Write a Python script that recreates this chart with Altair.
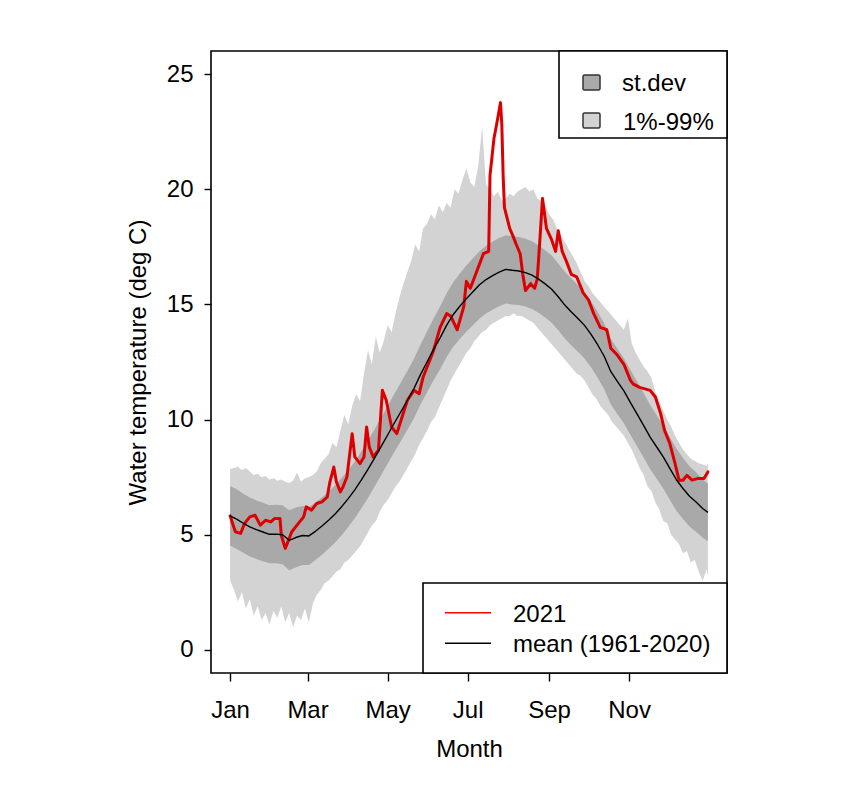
import altair as alt
import pandas as pd

# ---------------- data ----------------
# 2021 daily water temperature (day of year, deg C)
r_days = [1, 5, 9, 12, 16, 20, 24, 28, 32, 35, 39, 40, 43, 45, 48, 52, 57, 59, 63, 67,
          71, 75, 77, 80, 82, 85, 87, 90, 94, 96, 100, 103, 105, 107, 110, 114, 117, 120, 124, 128,
          132, 136, 141, 145, 148, 153, 156, 161, 166, 169, 174, 179, 181, 184, 188, 194, 198, 199, 202, 204,
          207, 208, 209, 210, 214, 217, 219, 222, 224, 226, 230, 233, 235, 237, 239, 242, 246, 249, 251, 254,
          257, 261, 265, 270, 274, 278, 283, 288, 291, 296, 301, 306, 308, 313, 321, 325, 329, 332, 336, 340,
          343, 346, 349, 353, 357, 362, 365]
r_vals = [5.82, 5.13, 5.06, 5.49, 5.78, 5.85, 5.42, 5.63, 5.56, 5.71, 5.71, 4.98, 4.41, 4.69, 5.13, 5.42, 5.78, 6.21, 6.07, 6.36,
          6.43, 6.64, 7.29, 7.94, 7.29, 6.86, 7.08, 7.51, 9.39, 8.38, 8.09, 8.38, 9.68, 8.81, 8.38, 8.67, 11.27, 10.83, 9.68, 9.39,
          10.11, 10.83, 11.27, 11.12, 11.84, 12.56, 13.0, 14.0, 14.6, 14.5, 13.9, 14.9, 16.0, 15.7, 16.3, 17.2, 17.3, 20.6, 22.2, 22.8,
          23.76, 22.8, 20.6, 19.2, 18.3, 17.9, 17.6, 17.2, 16.3, 15.6, 15.9, 15.7, 16.1, 17.8, 19.6, 18.3, 17.8, 17.3, 18.2, 17.3,
          16.9, 16.3, 16.2, 15.5, 15.2, 14.6, 14.0, 13.9, 13.1, 12.8, 12.4, 11.7, 11.55, 11.4, 11.27, 10.98, 10.26, 9.53, 8.96, 8.09,
          7.37, 7.37, 7.58, 7.37, 7.44, 7.44, 7.73]

# mean (1961-2020) and st.dev, every 5 days
m_days = [1, 6, 11, 16, 21, 26, 31, 36, 41, 46, 51, 56, 61, 66, 71, 76, 81, 86, 91, 96,
          101, 106, 111, 116, 121, 126, 131, 136, 141, 146, 151, 156, 161, 166, 171, 176, 181, 186, 191, 196,
          201, 206, 211, 216, 221, 226, 231, 236, 241, 246, 251, 256, 261, 266, 271, 276, 281, 286, 291, 296,
          301, 306, 311, 316, 321, 326, 331, 336, 341, 346, 351, 356, 361, 365]
m_vals = [5.82, 5.68, 5.50, 5.34, 5.22, 5.12, 5.02, 5.03, 5.00, 4.76, 4.88, 4.97, 4.95, 5.15, 5.38, 5.63, 5.90, 6.22, 6.57, 6.95,
          7.38, 7.84, 8.33, 8.83, 9.33, 9.84, 10.33, 10.83, 11.34, 11.95, 12.50, 13.05, 13.55, 14.10, 14.56, 14.92, 15.25, 15.55, 15.85, 16.08,
          16.25, 16.40, 16.52, 16.48, 16.45, 16.38, 16.27, 16.10, 15.89, 15.66, 15.33, 14.97, 14.67, 14.39, 14.09, 13.70, 13.25, 12.75, 12.09, 11.66,
          11.25, 10.74, 10.25, 9.75, 9.24, 8.81, 8.38, 7.88, 7.39, 7.01, 6.67, 6.42, 6.14, 5.97]
sd_vals = [1.30, 1.30, 1.28, 1.28, 1.27, 1.27, 1.26, 1.27, 1.28, 1.30, 1.30, 1.28,
           1.26, 1.25, 1.25, 1.24, 1.24, 1.24, 1.23, 1.23, 1.23, 1.24, 1.24, 1.25, 1.25, 1.26, 1.27, 1.28, 1.29, 1.30, 1.32,
           1.34, 1.36, 1.38, 1.40, 1.42, 1.44, 1.45, 1.46, 1.47, 1.48, 1.48, 1.48, 1.48, 1.48, 1.47, 1.47, 1.46,
           1.46, 1.46, 1.45, 1.45, 1.45, 1.44, 1.44, 1.43, 1.43, 1.42, 1.42, 1.42, 1.41, 1.41, 1.40, 1.40, 1.39, 1.38, 1.37, 1.36, 1.35,
           1.33, 1.31, 1.29, 1.27, 1.25]

# 1% and 99% quantiles, every 3 days
q_days = list(range(1, 365, 3)) + [365]
q99 = [7.85, 7.9, 7.95, 7.8, 7.9, 7.75, 7.6, 7.65, 7.5, 7.55,
       7.4, 7.45, 7.35, 7.4, 7.3, 7.25, 7.35, 7.7, 7.3, 7.45,
       7.5, 7.6, 7.75, 8.1, 8.3, 8.5, 9.0, 8.8, 9.5, 10.2,
       9.8, 10.6, 11.1, 10.8, 12.0, 13.0, 12.4, 13.6, 12.9, 13.4,
       14.1, 13.8, 14.6, 15.3, 15.9, 16.4, 16.9, 17.6, 17.3, 18.3,
       18.5, 18.9, 18.7, 19.3, 19.0, 19.4, 19.2, 20.0, 19.8, 20.4,
       20.9, 20.3, 20.1, 21.0, 22.7, 20.2, 20.0, 19.7, 19.9, 19.5,
       19.6, 19.8, 19.7, 19.9, 20.0, 20.1, 19.9, 20.0, 19.6, 19.5,
       19.3, 18.9, 18.7, 18.3, 18.0, 17.7, 17.4, 17.1, 16.8, 16.4,
       16.0, 15.8, 15.5, 15.3, 15.1, 14.9, 14.7, 14.5, 14.3, 14.1,
       13.9, 14.4, 13.3, 12.9, 12.6, 12.3, 12.1, 11.8, 11.2, 10.8,
       10.4, 10.0, 9.7, 9.3, 9.0, 8.7, 8.5, 8.3, 8.2, 8.1,
       8.05, 8.0, 8.1]
q01 = [3.0, 2.6, 2.1, 2.5, 1.8, 2.2, 1.5, 1.9, 1.3, 1.6,
       1.1, 1.7, 1.4, 1.9, 1.2, 1.6, 1.0, 1.5, 1.3, 1.8,
       1.2, 2.0, 2.4, 2.6, 2.9, 3.0, 3.2, 3.4, 3.5, 3.8,
       3.9, 4.1, 4.3, 4.5, 4.8, 5.1, 5.4, 5.6, 6.0, 6.3,
       6.5, 6.8, 7.1, 7.3, 7.6, 7.9, 8.2, 8.5, 8.9, 9.2,
       9.5, 9.9, 10.1, 10.5, 10.9, 11.3, 11.7, 12.0, 12.3, 12.6,
       12.9, 13.1, 13.4, 13.6, 13.8, 13.9, 14.1, 14.2, 14.3, 14.4,
       14.5, 14.5, 14.6, 14.5, 14.5, 14.4, 14.3, 14.2, 14.0, 13.8,
       13.6, 13.4, 13.2, 13.0, 12.8, 12.6, 12.4, 12.2, 12.0, 11.9,
       11.7, 11.4, 11.1, 10.9, 10.6, 10.4, 10.2, 9.9, 9.7, 9.5,
       9.3, 9.0, 8.7, 8.3, 7.9, 7.6, 7.1, 6.9, 6.4, 6.1,
       5.6, 5.5, 5.0, 4.8, 4.6, 4.2, 4.3, 3.8, 3.9, 3.4,
       3.0, 3.5, 3.2]

month_ticks = [1, 60, 121, 182, 244, 305]
month_labels = ["Jan", "Mar", "May", "Jul", "Sep", "Nov"]
y_ticks = [0, 5, 10, 15, 20, 25]

# ---------------- chart ----------------
FONT = "Liberation Sans"
FS = 24
W, H = 516, 622

df_q = pd.DataFrame({"day": q_days, "q01": q01, "q99": q99})
df_m = pd.DataFrame({"day": m_days, "avg": m_vals, "sd": sd_vals})
df_r = pd.DataFrame({"day": r_days, "t": r_vals})

label_expr = " : ".join(f"datum.value == {v} ? '{l}'" for v, l in zip(month_ticks, month_labels)) + " : ''"

x_scale = alt.Scale(domain=[-13.56, 379.56], nice=False, zero=False)
y_scale = alt.Scale(domain=[-1, 26], nice=False, zero=False)

x_axis = alt.Axis(values=month_ticks, labelExpr=label_expr, title="Month", grid=False,
                  domain=False, tickSize=8, tickWidth=1.4, tickColor="black",
                  labelFont=FONT, labelFontSize=FS, labelColor="black",
                  labelBaseline="alphabetic", labelPadding=36, labelAlign="center",
                  titleFont=FONT, titleFontSize=FS, titleFontWeight="normal", titleColor="black",
                  titleX=W / 2, titleY=83, titleBaseline="alphabetic", titleAlign="center")
y_axis = alt.Axis(values=y_ticks, title="Water temperature (deg C)", grid=False,
                  domain=False, tickSize=7, tickWidth=1.4, tickColor="black",
                  labelFont=FONT, labelFontSize=FS, labelColor="black", labelPadding=11,
                  titleFont=FONT, titleFontSize=FS, titleFontWeight="normal", titleColor="black",
                  titleX=-66, titleY=H / 2, titleAngle=270, titleBaseline="alphabetic", titleAlign="center")


def X(f):
    return alt.X(f, scale=x_scale, axis=x_axis)


def Y(f):
    return alt.Y(f, scale=y_scale, axis=y_axis)


light = alt.Chart(df_q).mark_area(color="#d3d3d3", opacity=1).encode(
    x=X("day:Q"), y=Y("q01:Q"), y2="q99:Q")

dark = alt.Chart(df_m).transform_calculate(
    lo="datum.avg - datum.sd", hi="datum.avg + datum.sd"
).mark_area(color="#a9a9a9", opacity=1).encode(x=X("day:Q"), y=Y("lo:Q"), y2="hi:Q")

red = alt.Chart(df_r).mark_line(color="#dc0000", strokeWidth=3, strokeJoin="round",
                                strokeCap="round").encode(x=X("day:Q"), y=Y("t:Q"))

meanline = alt.Chart(df_m).mark_line(color="black", strokeWidth=1.4, strokeJoin="round").encode(
    x=X("day:Q"), y=Y("avg:Q"))

one = pd.DataFrame({"k": [0]})


def box(x1, x2, y1, y2, fill, stroke="black", sw=1.6, r=0):
    return alt.Chart(one).mark_rect(fill=fill, stroke=stroke, strokeWidth=sw, cornerRadius=r).encode(
        x=alt.value(x1), x2=alt.value(x2), y=alt.value(y1), y2=alt.value(y2))


def txt(s, x, y):
    return alt.Chart(one).mark_text(text=s, align="left", baseline="alphabetic", font=FONT,
                                    fontSize=FS, color="black").encode(x=alt.value(x), y=alt.value(y))


def seg(x1, x2, y, color, sw):
    return alt.Chart(one).mark_rule(color=color, strokeWidth=sw).encode(
        x=alt.value(x1), x2=alt.value(x2), y=alt.value(y))


legend_layers = [
    box(348, W, 0, 87, "white"),
    box(372, 389, 24, 39, "#a9a9a9", "#333333", 1.5, 1.5),
    box(372, 389, 62, 77, "#d3d3d3", "#333333", 1.5, 1.5),
    txt("st.dev", 411, 40),
    txt("1%-99%", 412, 78.5),
    box(212, W, 532, H, "white"),
    seg(234, 280, 561.7, "#ff0000", 1.6),
    seg(234, 280, 592.3, "black", 1.6),
    txt("2021", 302, 570.5),
    txt("mean (1961-2020)", 302, 600.5),
]

chart = alt.layer(light, dark, red, meanline, *legend_layers).properties(
    width=W, height=H,
    padding={"left": 203, "top": 43, "right": 100, "bottom": 100},
    autosize=alt.AutoSizeParams(type="none"),
    background="white",
).configure_view(stroke="black", strokeWidth=1.6)

chart.save("out.html", embed_options={"renderer": "svg", "actions": False})
